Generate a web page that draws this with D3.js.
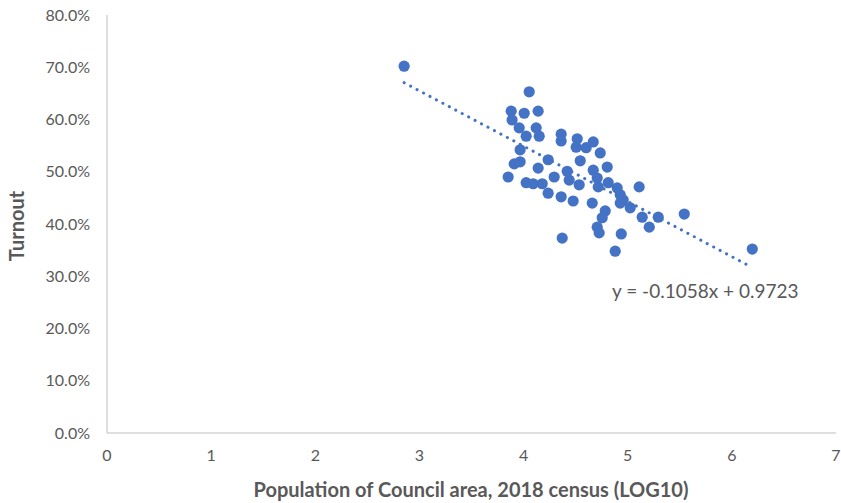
<!DOCTYPE html>
<html>
<head>
<meta charset="utf-8">
<script src="https://cdn.jsdelivr.net/npm/d3@7"></script>
<style>
  body { margin: 0; background: #fff; }
  svg { font-family: Lato, "Open Sans", sans-serif; }
</style>
</head>
<body>
<svg id="chart" width="841" height="503"></svg>
<script>
// Population (log10) of each council area
const popLog = [
    2.853, 4.054, 3.881, 4.006, 4.140, 3.890, 3.958, 4.121, 4.025, 4.150,
    4.361, 4.361, 4.515, 4.669, 4.505, 4.601, 4.736, 3.967, 3.967, 3.910,
    4.236, 4.544, 4.140, 4.419, 4.669, 4.803, 3.852, 4.294, 4.438, 4.707,
    4.025, 4.092, 4.179, 4.534, 4.717, 4.813, 4.899, 5.110, 4.236, 4.361,
    4.476, 4.659, 4.928, 4.957, 4.928, 5.024, 4.784, 4.755, 5.139, 5.293,
    5.543, 5.207, 4.707, 4.726, 4.938, 4.371, 4.880, 6.196
];
// Turnout (fraction)
const turnout = [
    0.702, 0.653, 0.616, 0.612, 0.616, 0.599, 0.584, 0.584, 0.568, 0.568,
    0.572, 0.559, 0.563, 0.557, 0.547, 0.546, 0.536, 0.542, 0.519, 0.515,
    0.523, 0.521, 0.507, 0.501, 0.503, 0.509, 0.490, 0.490, 0.484, 0.488,
    0.479, 0.477, 0.477, 0.475, 0.471, 0.479, 0.469, 0.471, 0.459, 0.452,
    0.444, 0.440, 0.456, 0.446, 0.440, 0.431, 0.425, 0.412, 0.413, 0.413,
    0.419, 0.394, 0.394, 0.383, 0.381, 0.373, 0.348, 0.352
];
const xTicks = [0, 1, 2, 3, 4, 5, 6, 7];
const yTicks = [0, 0.1, 0.2, 0.3, 0.4, 0.5, 0.6, 0.7, 0.8];
const slope = -0.1058;
const intercept = 0.9723;

const svg = d3.select('#chart');
const blue = '#4472C4';
const textGrey = '#595959';
const axisGrey = '#BFBFBF';

const x = d3.scaleLinear().domain([0, 7]).range([107, 836]);
const y = d3.scaleLinear().domain([0, 0.8]).range([433, 15]);

// Axes (lines only, no ticks)
svg.append('line')
    .attr('x1', x(0)).attr('x2', x(7))
    .attr('y1', y(0)).attr('y2', y(0))
    .attr('stroke', axisGrey).attr('stroke-width', 1);
svg.append('line')
    .attr('x1', x(0)).attr('x2', x(0))
    .attr('y1', y(0)).attr('y2', y(0.8))
    .attr('stroke', axisGrey).attr('stroke-width', 1);

// Tick labels
svg.append('g').selectAll('text')
    .data(xTicks)
    .join('text')
    .attr('x', d => x(d))
    .attr('y', 461)
    .attr('text-anchor', 'middle')
    .attr('font-size', '16px')
    .attr('fill', textGrey)
    .text(d => d);

svg.append('g').selectAll('text')
    .data(yTicks)
    .join('text')
    .attr('x', 90)
    .attr('y', d => y(d) + 5.5)
    .attr('text-anchor', 'end')
    .attr('font-size', '16px')
    .attr('fill', textGrey)
    .text(d => d3.format('.1%')(d));

// Points
const points = popLog.map((v, i) => ({ x: v, y: turnout[i] }));
svg.append('g').selectAll('circle')
    .data(points)
    .join('circle')
    .attr('cx', d => x(d.x))
    .attr('cy', d => y(d.y))
    .attr('r', 5.6)
    .attr('fill', blue);

// Linear trendline, dotted
const xMin = d3.min(popLog);
const xMax = d3.max(popLog);
svg.append('line')
    .attr('x1', x(xMin)).attr('y1', y(slope * xMin + intercept))
    .attr('x2', x(xMax)).attr('y2', y(slope * xMax + intercept))
    .attr('stroke', blue)
    .attr('stroke-width', 3)
    .attr('stroke-linecap', 'round')
    .attr('stroke-dasharray', '0.1 7.2');

// Equation label
svg.append('text')
    .attr('x', 612)
    .attr('y', 298)
    .attr('font-size', '19px')
    .attr('fill', textGrey)
    .text('y = -0.1058x + 0.9723');

// Axis titles
svg.append('text')
    .attr('x', 471)
    .attr('y', 497)
    .attr('text-anchor', 'middle')
    .attr('font-size', '20px')
    .attr('font-weight', 'bold')
    .attr('fill', textGrey)
    .text('Population of Council area, 2018 census (LOG10)');

svg.append('text')
    .attr('transform', 'translate(24,226) rotate(-90)')
    .attr('text-anchor', 'middle')
    .attr('font-size', '20px')
    .attr('font-weight', 'bold')
    .attr('fill', textGrey)
    .text('Turnout');
</script>
</body>
</html>
